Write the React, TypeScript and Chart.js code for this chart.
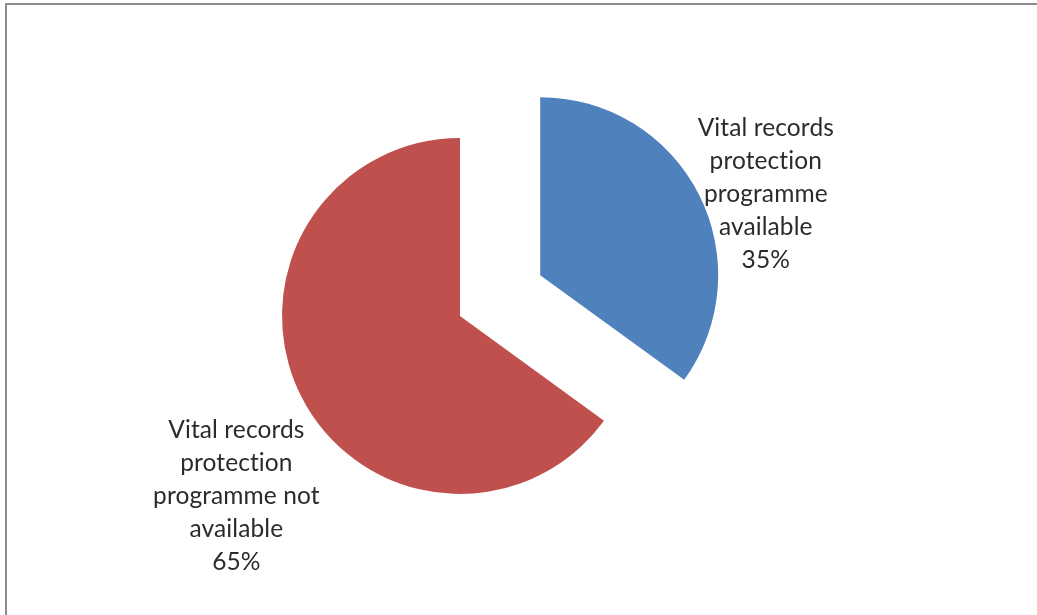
import React, { useEffect, useRef } from "react";
import { Chart, registerables } from "chart.js";

Chart.register(...registerables);

const categories: string[][] = [
  ["Vital records", "protection", "programme", "available"],
  ["Vital records", "protection", "programme not", "available"],
];
const values: number[] = [35, 65];
const colors: string[] = ["#4F81BD", "#C0504D"];
const explode: number[] = [90, 0];

const explodePlugin = {
  id: "explodeSlices",
  afterDatasetUpdate(chart: any, args: any) {
    const meta = chart.getDatasetMeta(args.index);
    meta.data.forEach((arc: any, i: number) => {
      const d = explode[i] || 0;
      if (!d) return;
      const mid = (arc.startAngle + arc.endAngle) / 2;
      arc.x += Math.cos(mid) * d;
      arc.y += Math.sin(mid) * d;
    });
  },
};

const labelPlugin = {
  id: "outsideLabels",
  afterDatasetsDraw(chart: any, _args: any, opts: any) {
    const ctx = chart.ctx;
    const meta = chart.getDatasetMeta(0);
    const total = values.reduce((a, b) => a + b, 0);
    ctx.save();
    ctx.font = opts.font;
    ctx.fillStyle = opts.color;
    ctx.textAlign = "center";
    ctx.textBaseline = "middle";
    try {
      (ctx as any).letterSpacing = "0.1px";
    } catch (e) {
      /* ignore */
    }
    meta.data.forEach((arc: any, i: number) => {
      const mid = (arc.startAngle + arc.endAngle) / 2;
      const ax = arc.x + Math.cos(mid) * arc.outerRadius;
      const ay = arc.y + Math.sin(mid) * arc.outerRadius;
      const lines = [...categories[i], Math.round((values[i] / total) * 100) + "%"];
      const o = opts.offsets[i];
      const bx = ax + o.dx;
      const by = ay + o.dy;
      const lh = opts.lineHeight;
      const top = by - ((lines.length - 1) * lh) / 2;
      lines.forEach((t, k) => ctx.fillText(t, bx, top + k * lh));
    });
    ctx.restore();
  },
};

export default function App() {
  const ref = useRef<HTMLCanvasElement | null>(null);
  useEffect(() => {
    if (!ref.current) return;
    const chart = new Chart(ref.current, {
      type: "pie",
      data: {
        labels: categories.map((c) => c.join(" ")),
        datasets: [
          {
            data: values,
            backgroundColor: colors,
            borderWidth: 0,
            hoverOffset: 0,
          },
        ],
      },
      options: {
        animation: false,
        responsive: false,
        radius: 178,
        layout: { padding: { left: 0, right: 117, top: 17, bottom: 0 } },
        plugins: {
          legend: { display: false },
          tooltip: { enabled: false },
          outsideLabels: {
            font: "24.5px Lato",
            color: "#2b2b2b",
            lineHeight: 33,
            offsets: [
              { dx: 67, dy: 0 },
              { dx: -65, dy: 99 },
            ],
          },
        } as any,
      },
      plugins: [explodePlugin, labelPlugin],
    });
    return () => chart.destroy();
  }, []);
  return (
    <div style={{ position: "fixed", left: 0, top: 0, width: 1037, height: 615, background: "#fff" }}>
      <canvas ref={ref} width={1037} height={615} style={{ position: "absolute", left: 0, top: 0 }} />
      <div
        style={{
          position: "absolute",
          left: 5,
          top: 3,
          width: 1030,
          height: 610,
          borderTop: "2px solid #8c8c8c",
          borderLeft: "2px solid #8c8c8c",
          pointerEvents: "none",
        }}
      />
    </div>
  );
}
